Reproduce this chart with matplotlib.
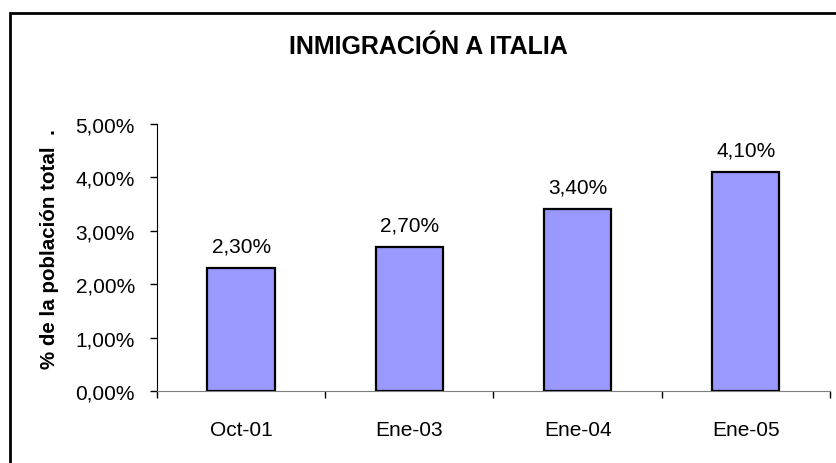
import matplotlib.pyplot as plt
from matplotlib.patches import Rectangle

# data
fechas = ['Oct-01', 'Ene-03', 'Ene-04', 'Ene-05']
porcentaje = [2.30, 2.70, 3.40, 4.10]
yticks = [0, 1, 2, 3, 4, 5]

plt.rcParams['font.family'] = ['Liberation Sans', 'DejaVu Sans']

fig = plt.figure(figsize=(8.37, 4.64), dpi=100)
ax = fig.add_axes([0.1876, 0.1552, 0.8040, 0.5754])

x = range(len(fechas))
ax.bar(x, porcentaje, width=0.40, color='#9999ff', edgecolor='black', linewidth=1.6, zorder=3)

# value labels above bars
for i, v in zip(x, porcentaje):
    ax.annotate(('%.2f%%' % v).replace('.', ','), (i, v), xytext=(0, 9),
                textcoords='offset points', ha='center', va='bottom', fontsize=15)

ax.set_xlim(-0.5, len(fechas) - 0.5)
ax.set_ylim(0, 5)
ax.set_yticks(yticks)
ax.set_yticklabels([('%.2f%%' % t).replace('.', ',') for t in yticks], fontsize=15)
ax.tick_params(axis='y', direction='out', length=5, width=1, pad=11, color='black')

# x: labels at centers, tick marks between categories
ax.set_xticks(list(x))
ax.set_xticklabels(fechas, fontsize=15)
ax.set_xticks([i - 0.5 for i in range(len(fechas) + 1)], minor=True)
ax.tick_params(axis='x', which='major', length=0, pad=21)
ax.tick_params(axis='x', which='minor', direction='out', length=5, width=1, color='black')

for s in ['top', 'right']:
    ax.spines[s].set_visible(False)
ax.spines['left'].set_color('black')
ax.spines['bottom'].set_color('#808080')

ax.set_ylabel('% de la población total  .', fontsize=14.8, fontweight='bold')
ax.yaxis.set_label_coords(-0.146, 0.535)

fig.text(0.512, 0.898, 'INMIGRACIÓN A ITALIA', ha='center', va='center',
         fontsize=18, fontweight='bold')

# chart border
fig.patches.append(Rectangle((10 / 837, -0.1), 1.1, 1.1 - 14 / 464,
                             transform=fig.transFigure, fill=False,
                             edgecolor='black', linewidth=2))

fig.savefig('out.png', dpi=100)
